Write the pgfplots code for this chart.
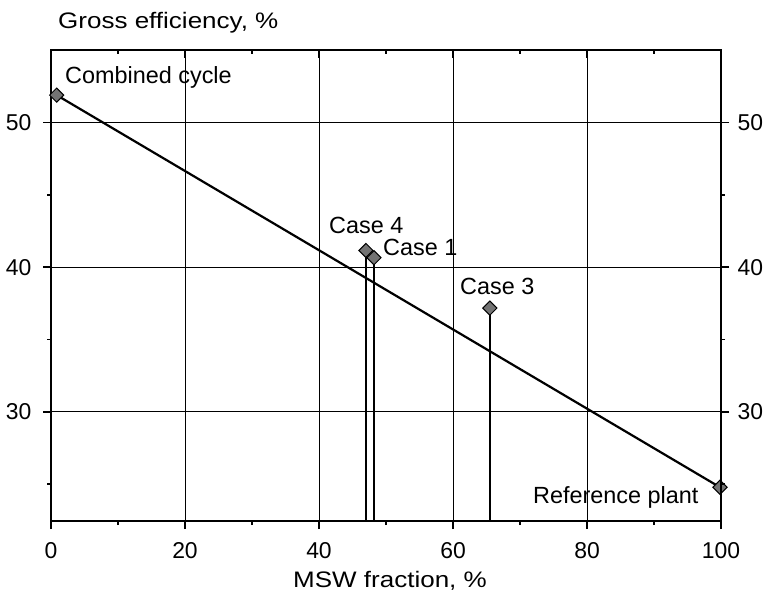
\documentclass[border=0pt]{standalone}
\usepackage{fontspec}
\setmainfont{Liberation Sans}
\newfontfamily\lblfont{Liberation Sans}[FakeStretch=1.16]
\usepackage{pgfplots}
\usepackage{pgfplotstable}
\pgfplotsset{compat=1.18}

\pgfplotstableread{
x y
0.85 51.88
99.85 24.79
}\mainline
\pgfplotstableread{
x y
47.0 41.15
48.2 40.65
65.5 37.17
}\cases

\pgfplotsset{
  common/.style={
    scale only axis, width=670bp, height=471bp,
    xmin=0, xmax=100, ymin=22.46, ymax=55,
    tick align=outside,
    major tick length=8bp, minor tick length=4bp,
    axis line style={line width=1.9bp},
    every tick/.style={black, line width=1.6bp},
    /pgf/number format/assume math mode=true,
    tick label style={font=\fontsize{23}{27}\selectfont},
    clip=false,
  }
}

\begin{document}
\begin{tikzpicture}
\useasboundingbox (-51bp,-81bp) rectangle (716bp,521bp);
\begin{axis}[common,
  xtick={0,20,40,60,80,100}, minor xtick={10,30,50,70,90},
  ytick={30,40,50}, minor ytick={25,35,45},
  xtick pos=bottom, ytick pos=left,
  grid=major, major grid style={black, line width=1bp},
  xticklabel style={yshift=-10bp},
  yticklabel style={xshift=-8bp},
  mark options={solid},
]
% vertical case lines
\addplot[black, line width=1.8bp] coordinates {(47.0,22.46) (47.0,41.15)};
\addplot[black, line width=1.8bp] coordinates {(48.2,22.46) (48.2,40.65)};
\addplot[black, line width=1.8bp] coordinates {(65.5,22.46) (65.5,37.17)};
% main line
\addplot[black, line width=2.2bp, mark=square*, mark size=5bp,
  mark options={rotate=45, fill=black!55, draw=black, line width=1bp}] table {\mainline};
\addplot[only marks, mark=square*, mark size=5bp,
  mark options={rotate=45, fill=black!55, draw=black, line width=1bp}] table {\cases};
% annotations
\begin{scope}[every node/.style={inner sep=0pt, anchor=base west, font=\fontsize{23.5}{28}\selectfont}]
\node at (axis cs:2.09,52.71) {Combined cycle};
\node at (axis cs:41.49,42.33) {Case 4};
\node at (axis cs:49.55,40.81) {Case 1};
\node at (axis cs:61.04,38.12) {Case 3};
\node at (axis cs:71.94,23.64) {Reference plant};
\end{scope}
\node[inner sep=0pt, anchor=base west, font=\lblfont\fontsize{22.5}{27}\selectfont]
  at ([xshift=7bp, yshift=21bp]rel axis cs:0,1) {Gross efficiency, \%};
\node[inner sep=0pt, anchor=base, font=\lblfont\fontsize{22.5}{27}\selectfont]
  at ([xshift=4bp, yshift=-66.7bp]rel axis cs:0.5,0) {MSW fraction, \%};
\end{axis}
% right axis with labels
\begin{axis}[common,
  hide x axis, axis y line*=right,
  ytick={30,40,50}, minor ytick={25,35,45},
  yticklabel style={xshift=5bp},
]
\end{axis}
% top axis with inward ticks
\begin{axis}[common,
  hide y axis, axis x line*=top, tick align=inside,
  xtick={0,20,40,60,80,100}, minor xtick={10,30,50,70,90},
  xticklabels={},
]
\end{axis}
\end{tikzpicture}
\end{document}
